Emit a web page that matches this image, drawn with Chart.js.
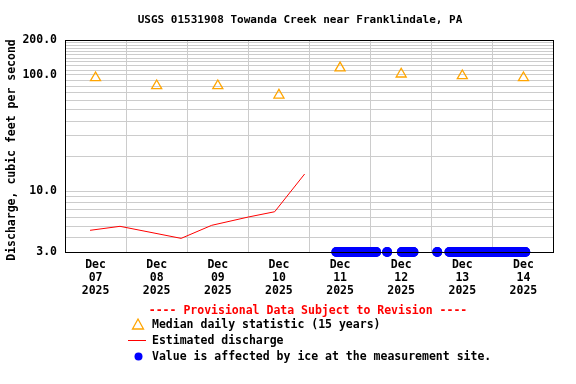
<!DOCTYPE html>
<html>
<head>
<meta charset="utf-8">
<script src="https://cdn.jsdelivr.net/npm/chart.js@4.4.1/dist/chart.umd.min.js"></script>
<style>
  html, body { margin: 0; padding: 0; background: #fff; }
  #wrap { width: 576px; height: 384px; }
</style>
</head>
<body>
<div id="wrap"><canvas id="flowChart" width="576" height="384"></canvas></div>
<script>
// x values are days since Dec 07 2025 00:00
const dayLabels = ['07', '08', '09', '10', '11', '12', '13', '14'];
const monthLabel = 'Dec';
const yearLabel = '2025';

// median daily statistic, plotted at noon of each day
const medianDays = [0.5, 1.5, 2.5, 3.5, 4.5, 5.5, 6.5, 7.5];
const medianValues = [94.6, 80.7, 80.7, 67.1, 115, 101.8, 98.4, 94.6];

// estimated discharge
const flowDays = [0.41, 0.90, 1.90, 2.40, 3.00, 3.43, 3.92];
const flowValues = [4.61, 4.99, 3.93, 5.09, 6.0, 6.66, 14.06];

// ice-affected periods (start, end)
const iceStart = [4.44, 5.27, 5.51, 6.09, 6.29];
const iceEnd = [5.09, 5.27, 5.70, 6.09, 7.53];

const yGridValues = [3, 4, 5, 6, 7, 8, 9, 10, 20, 30, 40, 50, 60, 70, 80, 90,
    100, 110, 120, 130, 140, 150, 160, 170, 180, 190, 200];
const yLabelValues = [3, 10, 100, 200];

const FONT = "'DejaVu Sans Mono', 'Liberation Mono', monospace";

const medianData = medianDays.map((d, i) => ({ x: d, y: medianValues[i] }));
const flowData = flowDays.map((d, i) => ({ x: d, y: flowValues[i] }));
const iceData = [];
iceStart.forEach((s, i) => {
    iceData.push({ x: s, y: 3 });
    if (iceEnd[i] !== s) iceData.push({ x: iceEnd[i], y: 3 });
    iceData.push({ x: iceEnd[i] + 0.01, y: null });
});

const overlay = {
    id: 'overlay',
    afterDraw(chart) {
        const ctx = chart.ctx;
        const a = chart.chartArea;
        ctx.save();
        // frame
        ctx.strokeStyle = '#000';
        ctx.lineWidth = 1;
        ctx.strokeRect(a.left + 0.5, a.top + 0.5, a.right - a.left - 1, a.bottom - a.top);

        // title
        ctx.fillStyle = '#000';
        ctx.textBaseline = 'middle';
        ctx.textAlign = 'center';
        ctx.font = 'bold 11px ' + FONT;
        ctx.fillText('USGS 01531908 Towanda Creek near Franklindale, PA', 300, 20);

        // y axis title
        ctx.save();
        ctx.translate(12, 150);
        ctx.rotate(-Math.PI / 2);
        ctx.font = 'bold 11.5px ' + FONT;
        ctx.fillText('Discharge, cubic feet per second', 0, 0);
        ctx.restore();

        // legend
        ctx.font = 'bold 11.5px ' + FONT;
        ctx.fillStyle = '#ff0000';
        ctx.fillText('---- Provisional Data Subject to Revision ----', 308, 311);

        ctx.textAlign = 'left';
        ctx.fillStyle = '#000';
        ctx.fillText('Median daily statistic (15 years)', 152, 325);
        ctx.fillText('Estimated discharge', 152, 341);
        ctx.fillText('Value is affected by ice at the measurement site.', 152, 357);

        // legend icons
        ctx.strokeStyle = '#ffa500';
        ctx.lineWidth = 1.3;
        ctx.beginPath();
        ctx.moveTo(138, 319);
        ctx.lineTo(143.5, 329);
        ctx.lineTo(132.5, 329);
        ctx.closePath();
        ctx.stroke();

        ctx.strokeStyle = '#ff0000';
        ctx.lineWidth = 1;
        ctx.beginPath();
        ctx.moveTo(128, 340.5);
        ctx.lineTo(146, 340.5);
        ctx.stroke();

        ctx.fillStyle = '#0000ff';
        ctx.beginPath();
        ctx.arc(138.5, 356.5, 4, 0, Math.PI * 2);
        ctx.fill();
        ctx.restore();
    }
};

new Chart(document.getElementById('flowChart'), {
    type: 'scatter',
    data: {
        datasets: [
            {
                label: 'Value is affected by ice',
                data: iceData,
                showLine: true,
                spanGaps: false,
                borderColor: '#0000ff',
                backgroundColor: '#0000ff',
                borderWidth: 10,
                borderCapStyle: 'round',
                pointRadius: 5,
                pointBorderWidth: 0,
                clip: false,
                order: 3
            },
            {
                label: 'Estimated discharge',
                data: flowData,
                showLine: true,
                borderColor: '#ff0000',
                borderWidth: 1,
                pointRadius: 0,
                tension: 0,
                order: 2
            },
            {
                label: 'Median daily statistic (15 years)',
                data: medianData,
                pointStyle: 'triangle',
                pointRadius: 5.8,
                pointBorderWidth: 1.3,
                borderColor: '#ffa500',
                backgroundColor: 'rgba(0,0,0,0)',
                order: 1
            }
        ]
    },
    options: {
        responsive: false,
        animation: false,
        events: [],
        layout: { padding: { left: 0, right: 22, top: 40, bottom: 0 } },
        plugins: {
            legend: { display: false },
            title: { display: false },
            tooltip: { enabled: false }
        },
        scales: {
            x: {
                type: 'linear',
                min: 0,
                max: 8,
                afterBuildTicks: function(scale) {
                    scale.ticks = dayLabels.map((d, i) => ({ value: i }));
                },
                afterFit: function(scale) { scale.height = 132; },
                grid: { color: '#cccccc', lineWidth: 1, drawTicks: false },
                border: { display: false },
                ticks: {
                    autoSkip: false,
                    maxRotation: 0,
                    labelOffset: 30.56,
                    padding: 7,
                    color: '#000',
                    font: { family: FONT, size: 11.5, weight: 'bold', lineHeight: 1.13 },
                    callback: function(value, index) {
                        return [monthLabel, dayLabels[index], yearLabel];
                    }
                }
            },
            y: {
                type: 'logarithmic',
                min: 3,
                max: 200,
                afterBuildTicks: function(scale) {
                    scale.ticks = yGridValues.map(v => ({ value: v }));
                },
                afterFit: function(scale) { scale.width = 65; },
                grid: { color: '#cccccc', lineWidth: 1, drawTicks: false },
                border: { display: false },
                ticks: {
                    autoSkip: false,
                    padding: 8,
                    color: '#000',
                    font: { family: FONT, size: 11.5, weight: 'bold' },
                    callback: function(value) {
                        return yLabelValues.includes(value) ? value.toFixed(1) : '';
                    }
                }
            }
        }
    },
    plugins: [overlay]
});
</script>
</body>
</html>
